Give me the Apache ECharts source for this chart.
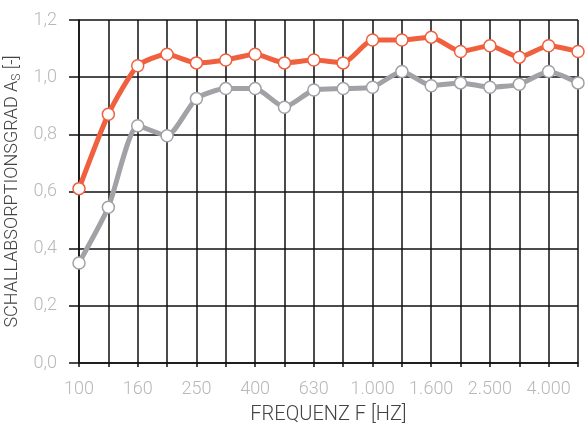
<!DOCTYPE html>
<html><head><meta charset="utf-8">
<script src="https://cdn.jsdelivr.net/npm/echarts@6/dist/echarts.min.js"></script>
<style>html,body{margin:0;padding:0;background:#fff}#c{width:588px;height:438px}</style>
</head><body><div id="c"></div>
<script>
const categories = ['100','125','160','200','250','315','400','500','630','800','1.000','1.250','1.600','2.000','2.500','3.150','4.000','5.000'];
const seriesOrange = [0.61,0.87,1.04,1.08,1.05,1.06,1.08,1.05,1.06,1.05,1.13,1.13,1.14,1.09,1.11,1.07,1.11,1.09];
const seriesGray = [0.35,0.545,0.83,0.795,0.925,0.96,0.96,0.895,0.955,0.96,0.965,1.02,0.97,0.98,0.965,0.975,1.02,0.98];
const yMin = 0, yMax = 1.2, yStep = 0.2;

const chart = echarts.init(document.getElementById('c'));
const FF = 'Roboto';
const labelFont = {fontFamily:FF, fontWeight:300, fontSize:18, color:'#b8b8b8'};
chart.setOption({
  animation:false,
  grid:{left:79,right:10,top:20,bottom:75,containLabel:false,outerBoundsMode:'none'},
  xAxis:{
    type:'category', data:categories, boundaryGap:false,
    axisLine:{show:true,lineStyle:{color:'#111',width:1.5}},
    axisTick:{show:true,length:4,interval:0,lineStyle:{color:'#111',width:1.5}},
    axisLabel:Object.assign({interval:1,margin:17},labelFont),
    splitLine:{show:true,interval:0,lineStyle:{color:'#111',width:1.5}},
    name:'FREQUENZ F [HZ]', nameLocation:'middle', nameGap:42,
    nameTextStyle:{fontFamily:FF,fontWeight:300,fontSize:20,color:'#444'}
  },
  yAxis:{
    type:'value', min:yMin, max:yMax, interval:yStep,
    axisLine:{show:true,lineStyle:{color:'#111',width:1.5}},
    axisTick:{show:true,length:10,lineStyle:{color:'#111',width:1.5}},
    axisLabel:Object.assign({margin:22,formatter:v=>v.toFixed(1).replace('.',',')},labelFont),
    splitLine:{show:true,lineStyle:{color:'#111',width:1.5}},
    name:'SCHALLABSORPTIONSGRAD A{s|S} [-]', nameLocation:'middle', nameGap:41,
    nameTextStyle:{fontFamily:FF,fontWeight:300,fontSize:18,color:'#444',
      rich:{s:{fontFamily:FF,fontWeight:300,fontSize:12,color:'#444',verticalAlign:'bottom',padding:[8,0,0,0]}}}
  },
  series:[
    {type:'line',data:seriesGray,smooth:0.2,symbol:'circle',symbolSize:12,
     lineStyle:{color:'#a2a2a6',width:5},itemStyle:{color:'#fff',borderColor:'#a2a2a6',borderWidth:1.5},z:3},
    {type:'line',data:seriesOrange,smooth:0.2,symbol:'circle',symbolSize:12,
     lineStyle:{color:'#f0603e',width:5},itemStyle:{color:'#fff',borderColor:'#f0603e',borderWidth:1.5},z:4}
  ]
});
</script></body></html>
